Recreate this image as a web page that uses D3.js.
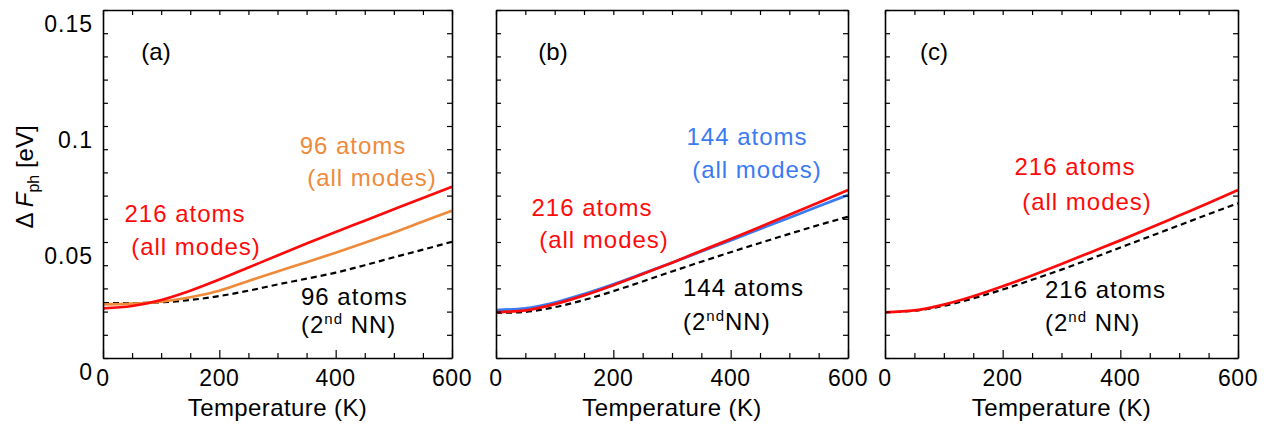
<!DOCTYPE html>
<html><head><meta charset="utf-8">
<script src="https://cdn.jsdelivr.net/npm/d3@7"></script>
<style>
html,body{margin:0;padding:0;background:#fff;}
text{font-family:"Liberation Sans",Arial,Helvetica,sans-serif;}
</style></head>
<body>
<svg id="chart" width="1266" height="425"></svg>
<script>
// ---------------- data ----------------
const temps = [0,50,100,150,200,250,300,350,400,450,500,550,600];
const xTicks = [0,200,400,600];
const yTickLabels = ["0","0.05","0.1","0.15"];
const yTickValues = [0,0.05,0.1,0.15];

// panel (a)
const aRed216   = [0.0214,0.0224,0.0250,0.0290,0.0338,0.0390,0.0442,0.0493,0.0543,0.0592,0.0641,0.0690,0.0738];
const aOrange96 = [0.0231,0.0234,0.0243,0.0262,0.0290,0.0332,0.0373,0.0413,0.0454,0.0497,0.0541,0.0588,0.0635];
const aBlack96  = [0.0237,0.0237,0.0240,0.0250,0.0267,0.0290,0.0317,0.0342,0.0368,0.0400,0.0434,0.0467,0.0501];
// panel (b)
const bRed216   = [0.0197,0.0205,0.0232,0.0270,0.0314,0.0362,0.0411,0.0462,0.0513,0.0565,0.0617,0.0670,0.0724];
const bBlue144  = [0.0207,0.0214,0.0239,0.0276,0.0318,0.0364,0.0411,0.0459,0.0507,0.0556,0.0605,0.0654,0.0703];
const bBlack144 = [0.0194,0.0199,0.0219,0.0250,0.0288,0.0330,0.0373,0.0415,0.0456,0.0496,0.0535,0.0573,0.0609];
// panel (c)
const cRed216   = [0.0197,0.0205,0.0230,0.0266,0.0309,0.0356,0.0405,0.0456,0.0507,0.0560,0.0614,0.0668,0.0724];
const cBlack216 = [0.0197,0.0204,0.0225,0.0257,0.0295,0.0337,0.0381,0.0428,0.0476,0.0524,0.0572,0.0620,0.0667];

const RED="#ff0a0a", ORANGE="#ef8a3a", BLUE="#3b7bf2", BLACK="#000";

const panels = [
  {x0:103, x1:452, tag:"(a)", tagX:156,
   series:[{v:aBlack96,c:BLACK,dash:true},{v:aOrange96,c:ORANGE},{v:aRed216,c:RED}],
   notes:[
     {t:"96 atoms",x:353,y:146,c:ORANGE},{t:"(all modes)",x:372,y:178,c:ORANGE},
     {t:"216 atoms",x:185,y:214,c:RED},{t:"(all modes)",x:196,y:247,c:RED},
     {t:"96 atoms",x:301,y:297,c:BLACK,anchor:"start"},{nn:true,space:true,x:301,y:325,c:BLACK,anchor:"start"}
   ]},
  {x0:496, x1:848, tag:"(b)", tagX:553,
   series:[{v:bBlack144,c:BLACK,dash:true},{v:bBlue144,c:BLUE},{v:bRed216,c:RED}],
   notes:[
     {t:"144 atoms",x:747,y:137,c:BLUE},{t:"(all modes)",x:757,y:170,c:BLUE},
     {t:"216 atoms",x:592,y:208,c:RED},{t:"(all modes)",x:604,y:240,c:RED},
     {t:"144 atoms",x:683,y:288,c:BLACK,anchor:"start"},{nn:true,space:false,x:683,y:322,c:BLACK,anchor:"start"}
   ]},
  {x0:885, x1:1238, tag:"(c)", tagX:934,
   series:[{v:cBlack216,c:BLACK,dash:true},{v:cRed216,c:RED}],
   notes:[
     {t:"216 atoms",x:1075,y:167,c:RED},{t:"(all modes)",x:1087,y:202,c:RED},
     {t:"216 atoms",x:1045,y:290,c:BLACK,anchor:"start"},{nn:true,space:true,x:1045,y:323,c:BLACK,anchor:"start"}
   ]}
];

const svg = d3.select("#chart");
const yTop=10, yBot=358;
const y = d3.scaleLinear().domain([0,0.15]).range([yBot,yTop]);
const FS = 23;

panels.forEach((p,pi)=>{
  const x = d3.scaleLinear().domain([0,600]).range([p.x0,p.x1]);
  const g = svg.append("g");

  // curves
  const line = d3.line().x((d,i)=>x(temps[i])).y(d=>y(d)).curve(d3.curveMonotoneX);
  p.series.forEach(s=>{
    g.append("path").attr("d",line(s.v)).attr("fill","none")
      .attr("stroke",s.c).attr("stroke-width",s.dash?2.2:2.7)
      .attr("stroke-dasharray",s.dash?"6,4":null);
  });

  // axes with inward ticks
  const minorX = d3.range(0,601,50), minorY = d3.range(0,0.1501,0.01);
  const bottom = d3.axisBottom(x).tickValues(minorX).tickSizeInner(-5).tickSizeOuter(0).tickFormat("");
  const top = d3.axisTop(x).tickValues(minorX).tickSizeInner(-5).tickSizeOuter(0).tickFormat("");
  const left = d3.axisLeft(y).tickValues(minorY).tickSizeInner(-5).tickSizeOuter(0).tickFormat("");
  const right = d3.axisRight(y).tickValues(minorY).tickSizeInner(-5).tickSizeOuter(0).tickFormat("");
  const axes = [
    g.append("g").attr("transform",`translate(0,${yBot})`).call(bottom),
    g.append("g").attr("transform",`translate(0,${yTop})`).call(top),
    g.append("g").attr("transform",`translate(${p.x0},0)`).call(left),
    g.append("g").attr("transform",`translate(${p.x1},0)`).call(right)
  ];
  axes.forEach(a=>{
    a.select(".domain").attr("stroke","#000").attr("stroke-width",1.6);
    a.selectAll(".tick line").attr("stroke","#000").attr("stroke-width",1.2);
  });
  axes[0].selectAll(".tick line").attr("y2",d=>(d%200===0?-8:-5));

  // x tick labels
  xTicks.forEach(t=>{
    g.append("text").attr("x",x(t)).attr("y",378).attr("dy","0.35em")
      .attr("text-anchor","middle").attr("font-size",FS).attr("letter-spacing",0.6).text(t);
  });
  g.append("text").attr("x",(p.x0+p.x1)/2).attr("y",408).attr("dy","0.35em")
    .attr("text-anchor","middle").attr("font-size",24).attr("letter-spacing",0.4).text("Temperature (K)");

  // y tick labels only on first panel
  if(pi===0){
    yTickValues.forEach((v,i)=>{
      g.append("text").attr("x",93).attr("y",y(v)+14).attr("dy","0.35em")
        .attr("text-anchor","end").attr("font-size",FS).attr("letter-spacing",1).text(yTickLabels[i]);
    });
    const yt = g.append("text").attr("transform","translate(33,177) rotate(-90)")
      .attr("text-anchor","middle").attr("font-size",24);
    yt.append("tspan").text("\u0394 ");
    yt.append("tspan").attr("font-style","italic").text("F");
    yt.append("tspan").attr("font-size",16).attr("dy",6).text("ph");
    yt.append("tspan").attr("dy",-6).text(" [eV]");
  }

  // panel tag
  g.append("text").attr("x",p.tagX).attr("y",52).attr("dy","0.35em")
    .attr("text-anchor","middle").attr("font-size",24).text(p.tag);

  // annotations
  p.notes.forEach(n=>{
    const t = g.append("text").attr("x",n.x).attr("y",n.y).attr("dy","0.35em")
      .attr("fill",n.c).attr("font-size",24).attr("letter-spacing",1)
      .attr("text-anchor",n.anchor||"middle");
    if(n.nn){
      t.append("tspan").text("(2");
      t.append("tspan").attr("font-size",15).attr("dy",-9).text("nd");
      t.append("tspan").attr("dy",9).text(n.space?" NN)":"NN)");
    } else t.text(n.t);
  });
});
</script>
</body></html>
